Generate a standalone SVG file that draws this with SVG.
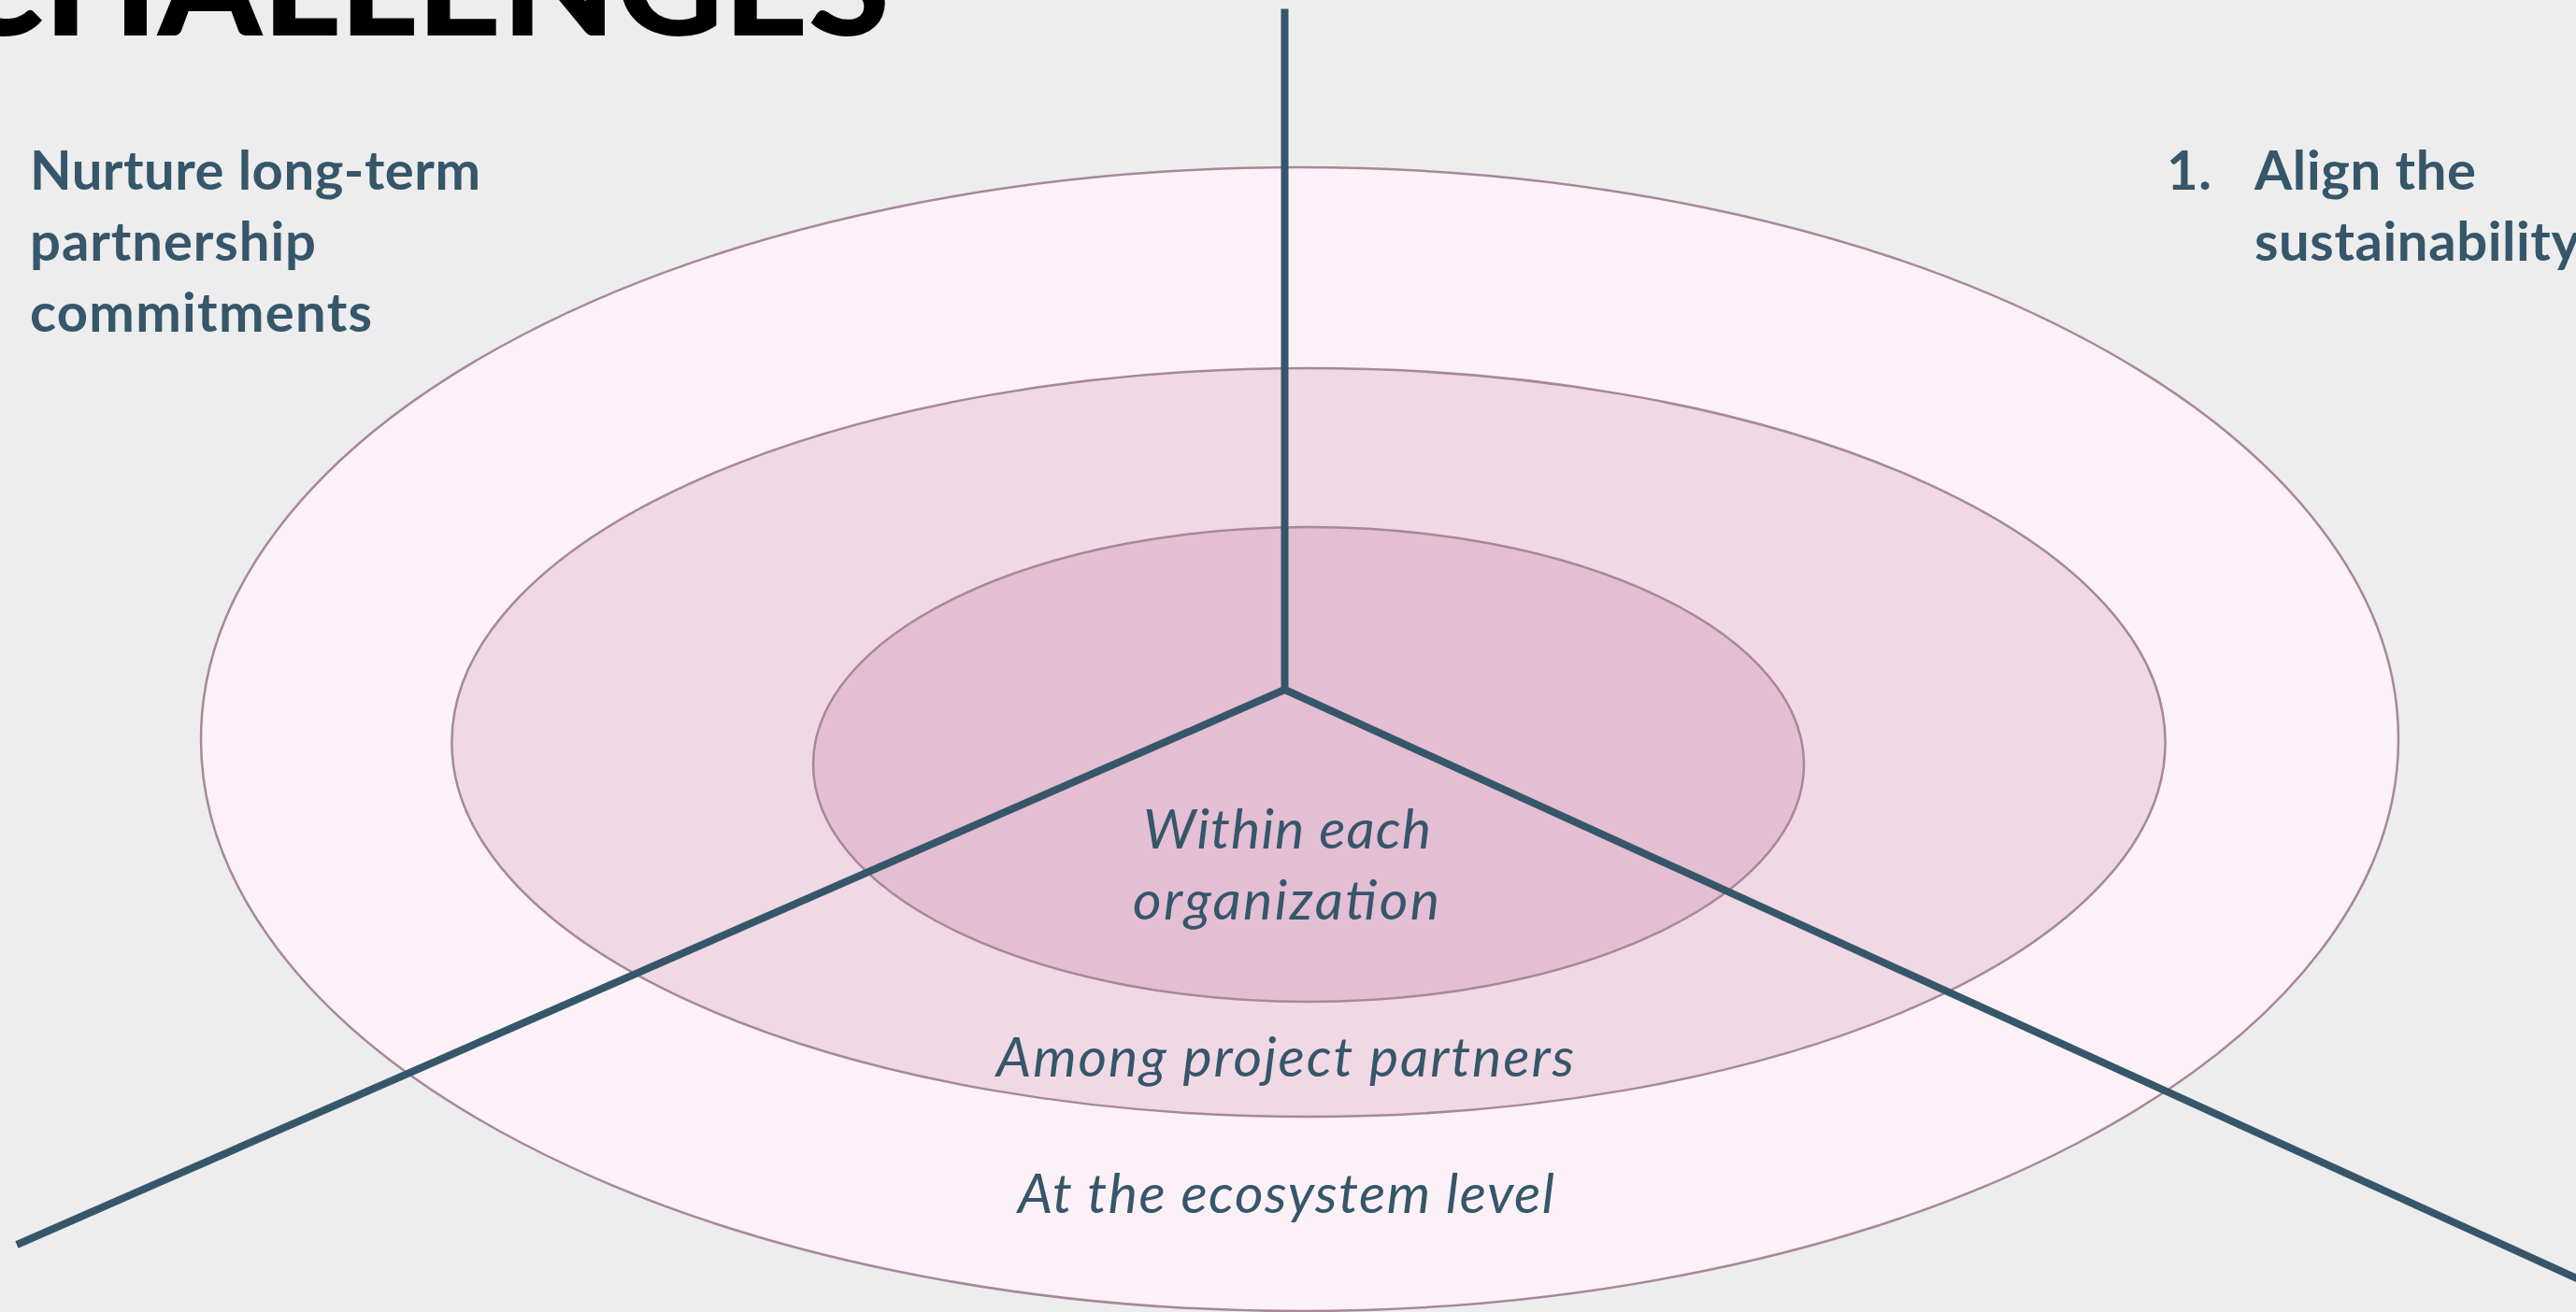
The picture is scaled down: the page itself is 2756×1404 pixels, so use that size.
<svg xmlns="http://www.w3.org/2000/svg" width="2756" height="1404" viewBox="0 0 2756 1404">
  <style>
    .ring { stroke: #a7879a; stroke-width: 2.5; }
    .axis { fill: none; stroke: #36566a; stroke-width: 8; stroke-linecap: butt; stroke-linejoin: miter; }
    .heading { font-family: Lato, "Liberation Sans", sans-serif; font-weight: 900; font-size: 150px; fill: #000000; }
    .goal { font-family: Lato, "Liberation Sans", sans-serif; font-weight: 700; font-size: 58px; fill: #36566a; }
    .level { font-family: Lato, "Liberation Sans", sans-serif; font-style: italic; font-size: 59px; fill: #36566a; text-anchor: middle; }
  </style>

  <!-- background -->
  <rect x="0" y="0" width="2756" height="1404" fill="#ededed"/>

  <!-- page heading, running off the top edge -->
  <text class="heading" x="-58" y="38" textLength="1010" lengthAdjust="spacingAndGlyphs">CHALLENGES</text>

  <!-- concentric levels -->
  <g id="level-ecosystem">
    <ellipse class="ring" cx="1390.5" cy="791" rx="1175.5" ry="612" fill="#fbf1f6"/>
  </g>
  <g id="level-partners">
    <ellipse class="ring" cx="1400" cy="794.5" rx="916.6" ry="400.5" fill="#f0d8e4"/>
  </g>
  <g id="level-organization">
    <ellipse class="ring" cx="1400" cy="818" rx="530" ry="254" fill="#e4bed3"/>
  </g>

  <!-- three dividing axes meeting at the hub -->
  <g id="connectors">
    <line class="axis" x1="1374.5" y1="9.5" x2="1374.5" y2="738"/>
    <polyline class="axis" points="18,1332 1374.5,738 2770,1374"/>
  </g>

  <!-- level labels -->
  <g id="label-organization">
    <text class="level" x="1377" y="908" textLength="308">Within each</text>
    <text class="level" x="1376" y="984" textLength="328">organization</text>
  </g>
  <g id="label-partners">
    <text class="level" x="1375" y="1152" textLength="618">Among project partners</text>
  </g>
  <g id="label-ecosystem">
    <text class="level" x="1376" y="1298" textLength="574">At the ecosystem level</text>
  </g>

  <!-- goal statements -->
  <g id="goal-commitments">
    <text class="goal" x="32" y="203" textLength="482">Nurture long-term</text>
    <text class="goal" x="32" y="279" textLength="306">partnership</text>
    <text class="goal" x="32" y="355" textLength="366">commitments</text>
  </g>
  <g id="goal-align">
    <text class="goal" x="2318" y="203" textLength="48">1.</text>
    <text class="goal" x="2412" y="203" textLength="237">Align the</text>
    <text class="goal" x="2412" y="279" textLength="348">sustainability</text>
  </g>
</svg>
